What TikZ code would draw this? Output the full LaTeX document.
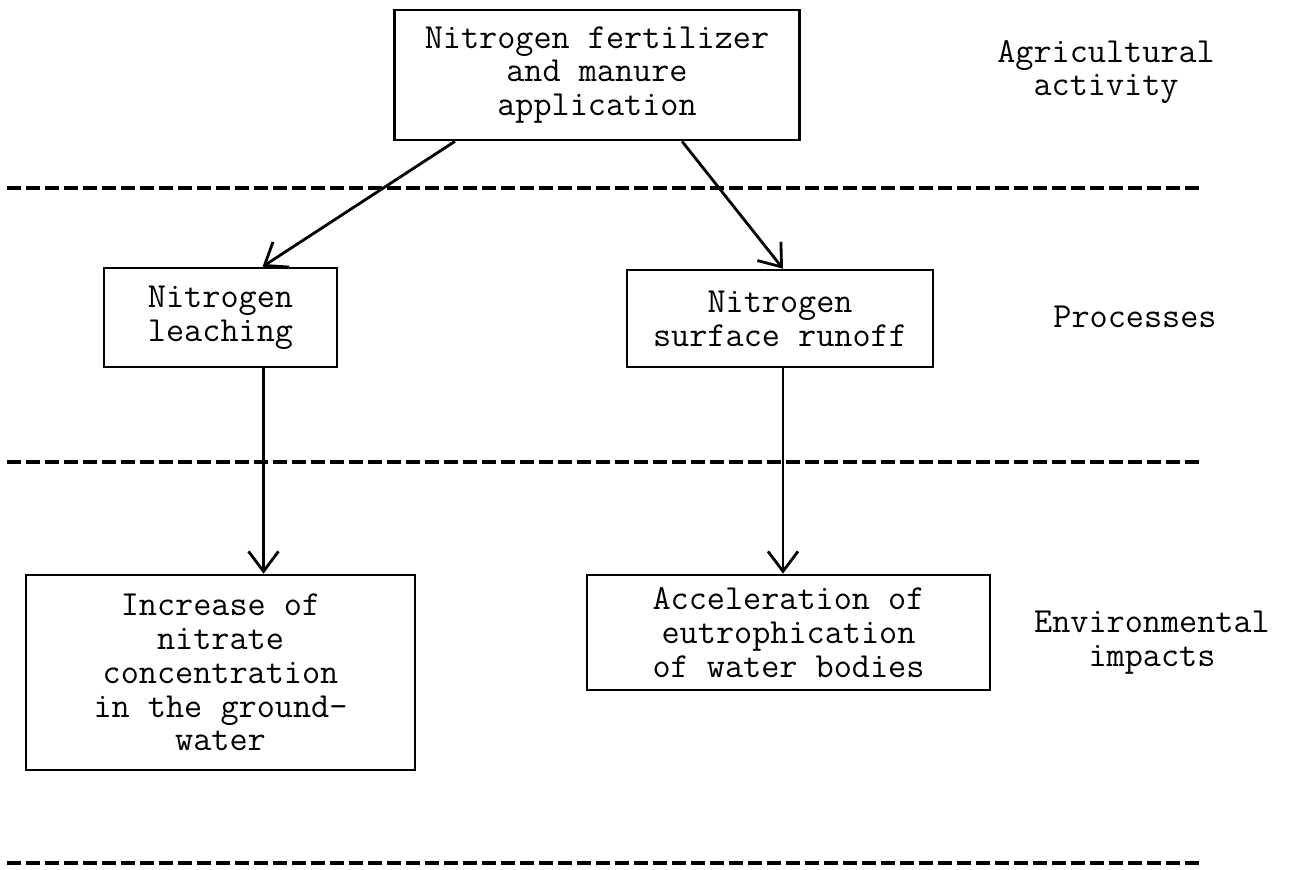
\documentclass[tikz,border=0pt]{standalone}
\usepackage{fontspec}
\usetikzlibrary{arrows.meta}

\begin{document}
\begin{tikzpicture}[x=0.5pt,y=-0.5pt,
		box/.style={draw,line width=1.3pt,inner sep=0pt,align=center},
		tag/.style={align=center},
		sep/.style={line width=1.6pt,dash pattern=on 7pt off 2.5pt},
		flow/.style={line width=1.4pt,-{Straight Barb[length=10pt,width=15pt,line width=1.4pt]}},
		every node/.style={font=\fontsize{17.6}{16.9}\selectfont\ttfamily}]
			\useasboundingbox (0,0) rectangle (1293,869);
			\draw (597,75) node [box,minimum width=202.5pt,minimum height=65pt] (fert) {Nitrogen fertilizer\\and manure\\application};
			\draw (1106,72) node [tag] (agri) {Agricultural\\activity};
			\draw (220.5,317.5) node [box,minimum width=116.5pt,minimum height=49.5pt] (leach) {Nitrogen\\leaching};
			\draw (780,318.5) node [box,minimum width=153pt,minimum height=48.5pt] (runoff) {Nitrogen\\surface runoff};
			\draw (1135,317) node [tag] (proc) {Processes};
			\draw (220.5,672.5) node [box,minimum width=194.5pt,minimum height=97.5pt] (nitrate) {Increase of\\nitrate\\concentration\\in the ground-\\water};
			\draw (788.5,632.5) node [box,minimum width=201.5pt,minimum height=57.5pt] (eutro) {Acceleration of\\eutrophication\\of water bodies};
			\draw (1152,643) node [tag] (impact) {Environmental\\impacts};
			\foreach \y in {188,462,863}
				\draw[sep] (7,\y) -- (1200,\y);
			\draw[flow] ([xshift=-71pt]fert.south) -- ([xshift=21pt]leach.north);
			\draw[flow] ([xshift=42.5pt]fert.south) -- ([xshift=1.5pt]runoff.north);
			\draw[flow] ([xshift=21.5pt]leach.south) -- ([xshift=21.5pt]leach.south |- nitrate.north);
			\draw[flow] ([xshift=1.5pt]runoff.south) -- ([xshift=1.5pt]runoff.south |- eutro.north);
		\end{tikzpicture}
\end{document}
